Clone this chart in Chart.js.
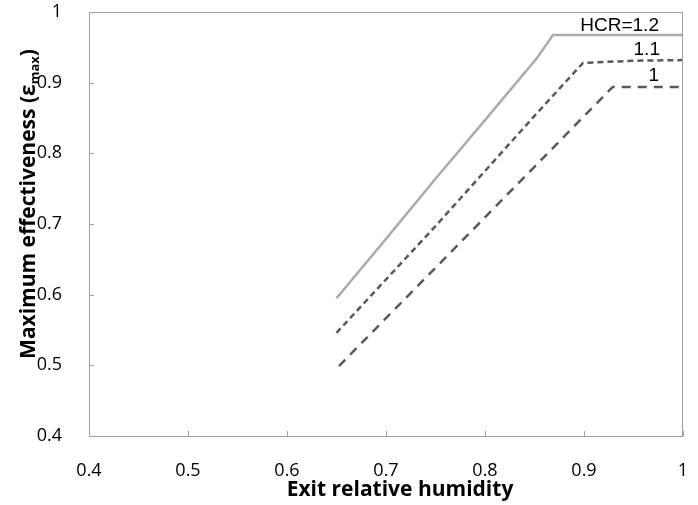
<!DOCTYPE html>
<html>
<head>
<meta charset="utf-8">
<script src="https://cdn.jsdelivr.net/npm/chart.js@4.4.1/dist/chart.umd.min.js"></script>
<style>
  html, body { margin: 0; padding: 0; background: #fff; }
  #wrap { width: 698px; height: 505px; position: relative; }
</style>
</head>
<body>
<div id="wrap"><canvas id="c"></canvas></div>
<script>
// 各曲線資料（出口相對濕度 → 最大效能）
const rh12 = [0.65, 0.70, 0.75, 0.80, 0.8525, 0.8687, 1.0];
const eff12 = [0.595, 0.679, 0.764, 0.847, 0.935, 0.9675, 0.9675];

const rh11 = [0.65, 0.75, 0.85, 0.899, 0.95, 1.0];
const eff11 = [0.546, 0.697, 0.853, 0.928, 0.931, 0.932];

const rh10 = [0.6525, 0.75, 0.85, 0.929, 1.0];
const eff10 = [0.499, 0.638, 0.781, 0.894, 0.894];

const seriesLabels = ['HCR=1.2', '1.1', '1'];
const xTicks = [0.4, 0.5, 0.6, 0.7, 0.8, 0.9, 1];
const yTicks = [0.4, 0.5, 0.6, 0.7, 0.8, 0.9, 1];

const LABEL_FONT = "'Liberation Sans', Arial, sans-serif";
const TICK_FONT = "'Open Sans', 'Liberation Sans', sans-serif";

const pts = (xs, ys) => xs.map((x, i) => ({ x, y: ys[i] }));

// 不讓刻度文字撐開繪圖區
const noPad = (s) => { s.paddingTop = 0; s.paddingBottom = 0; s.paddingLeft = 0; s.paddingRight = 0; };

// 外框、內向刻度、軸標題、曲線標籤
const decor = {
  id: 'decor',
  afterDraw(chart) {
    const { ctx, chartArea: a, scales: { x, y } } = chart;
    ctx.save();
    ctx.strokeStyle = '#a0a0a0';
    ctx.lineWidth = 1;
    ctx.strokeRect(a.left + 0.5, a.top + 0.5, a.right - a.left - 1, a.bottom - a.top);
    ctx.beginPath();
    xTicks.forEach((v) => {
      const px = Math.round(x.getPixelForValue(v)) + 0.5;
      ctx.moveTo(px, a.bottom); ctx.lineTo(px, a.bottom - 5);
    });
    yTicks.forEach((v) => {
      const py = Math.round(y.getPixelForValue(v)) + 0.5;
      ctx.moveTo(a.left, py); ctx.lineTo(a.left + 5, py);
    });
    ctx.stroke();

    // x 軸標題
    ctx.fillStyle = '#000';
    ctx.font = "bold 21px 'Open Sans', sans-serif";
    ctx.textAlign = 'center';
    ctx.textBaseline = 'middle';
    ctx.fillText('Exit relative humidity', 400, 490);

    // y 軸標題（含下標 max）
    ctx.translate(28, 204);
    ctx.rotate(-Math.PI / 2);
    const main = 'Maximum effectiveness (ε';
    const sub = 'max';
    const close = ')';
    const fMain = "bold 21px 'Open Sans', sans-serif";
    const fSub = "bold 13px 'Open Sans', sans-serif";
    ctx.font = fMain; const w1 = ctx.measureText(main).width; const w3 = ctx.measureText(close).width;
    ctx.font = fSub; const w2 = ctx.measureText(sub).width;
    let sx = -(w1 + w2 + w3) / 2;
    ctx.textAlign = 'left';
    ctx.textBaseline = 'alphabetic';
    ctx.font = fMain; ctx.fillText(main, sx, 7); sx += w1;
    ctx.font = fSub; ctx.fillText(sub, sx, 11); sx += w2;
    ctx.font = fMain; ctx.fillText(close, sx, 7);
    ctx.restore();

    // 曲線標籤
    ctx.save();
    ctx.fillStyle = '#000';
    ctx.font = `19px ${LABEL_FONT}`;
    ctx.textAlign = 'right';
    ctx.textBaseline = 'alphabetic';
    const lx = x.getPixelForValue(0.9757);
    ctx.fillText(seriesLabels[0], lx, y.getPixelForValue(eff12[eff12.length - 1]) - 4);
    ctx.fillText(seriesLabels[1], lx + 1, y.getPixelForValue(eff11[eff11.length - 1]) - 5);
    ctx.fillText(seriesLabels[2], lx, y.getPixelForValue(eff10[eff10.length - 1]) - 6);
    ctx.restore();
  },
};

new Chart(document.getElementById('c'), {
  type: 'line',
  data: {
    datasets: [
      { label: seriesLabels[0], data: pts(rh12, eff12), borderColor: '#ababab', borderWidth: 2.5 },
      { label: seriesLabels[1], data: pts(rh11, eff11), borderColor: '#595959', borderWidth: 2.5, borderDash: [6, 4] },
      { label: seriesLabels[2], data: pts(rh10, eff10), borderColor: '#595959', borderWidth: 2.5, borderDash: [9, 7] },
    ],
  },
  options: {
    responsive: true,
    maintainAspectRatio: false,
    animation: false,
    layout: { padding: { top: 12, right: 15, left: 0, bottom: 0 } },
    elements: { point: { radius: 0 }, line: { tension: 0, fill: false } },
    plugins: { legend: { display: false }, tooltip: { enabled: false } },
    scales: {
      x: {
        type: 'linear',
        min: 0.4, max: 1,
        afterFit: (s) => { s.height = 69; noPad(s); },
        afterBuildTicks: (s) => { s.ticks = xTicks.map((v) => ({ value: v })); },
        grid: { display: false },
        border: { display: false },
        ticks: {
          padding: 16,
          maxRotation: 0,
          color: '#000',
          font: { family: TICK_FONT, size: 18 },
          callback: (v) => String(v),
        },
      },
      y: {
        type: 'linear',
        min: 0.4, max: 1,
        afterFit: (s) => { s.width = 89; noPad(s); },
        afterBuildTicks: (s) => { s.ticks = yTicks.map((v) => ({ value: v })); },
        grid: { display: false },
        border: { display: false },
        ticks: {
          padding: 19,
          color: '#000',
          font: { family: TICK_FONT, size: 18 },
          callback: (v) => String(v),
        },
      },
    },
  },
  plugins: [decor],
});
</script>
</body>
</html>
